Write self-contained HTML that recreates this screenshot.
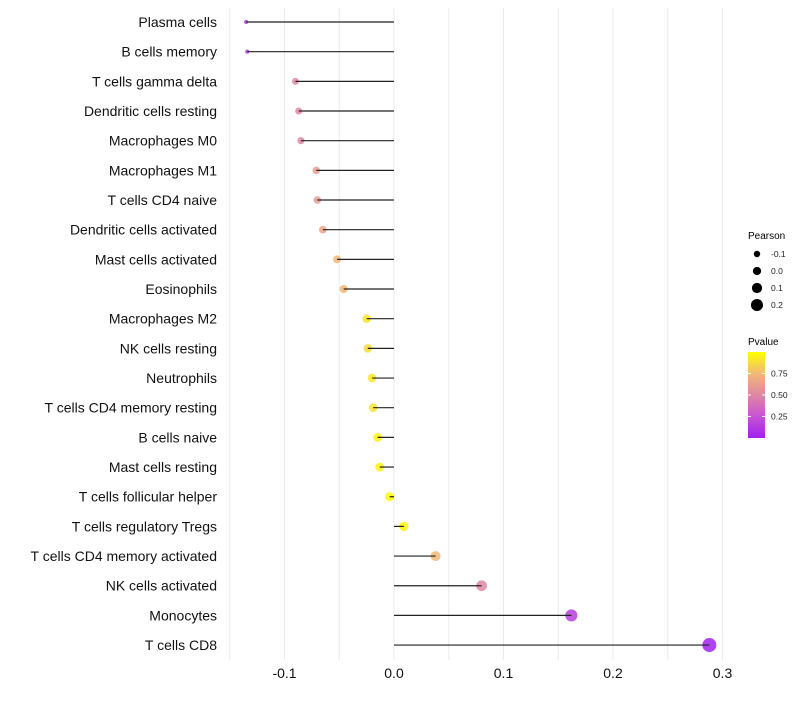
<!DOCTYPE html>
<html><head><meta charset="utf-8"><style>
body{margin:0;background:#fff;font-family:"Liberation Sans",sans-serif;}
</style></head><body>
<svg id="chart" width="800" height="700" xmlns="http://www.w3.org/2000/svg" font-family="Liberation Sans, sans-serif">
<defs>
<linearGradient id="pg" x1="0" y1="1" x2="0" y2="0">
<stop offset="0" stop-color="#a020f0"/><stop offset="0.25" stop-color="#c654d2"/><stop offset="0.5" stop-color="#df87a4"/><stop offset="0.75" stop-color="#f1b876"/><stop offset="1" stop-color="#ffff00"/>
</linearGradient>
</defs>
<g id="grid"></g><g id="dots"></g><g id="marks"></g><g id="labels"></g>
<g id="legend">
<text x="748" y="239" font-size="10">Pearson</text>
<text x="748" y="345" font-size="10">Pvalue</text>
<rect x="748" y="352" width="17" height="86" fill="url(#pg)"/>
</g>
</svg>
<script>
const cells=["Plasma cells","B cells memory","T cells gamma delta","Dendritic cells resting","Macrophages M0","Macrophages M1","T cells CD4 naive","Dendritic cells activated","Mast cells activated","Eosinophils","Macrophages M2","NK cells resting","Neutrophils","T cells CD4 memory resting","B cells naive","Mast cells resting","T cells follicular helper","T cells regulatory  Tregs ","T cells CD4 memory activated","NK cells activated","Monocytes","T cells CD8"];
const pearson=[-0.135,-0.134,-0.090,-0.087,-0.085,-0.071,-0.070,-0.065,-0.052,-0.046,-0.025,-0.024,-0.020,-0.019,-0.015,-0.013,-0.004,0.009,0.038,0.080,0.162,0.288];
const pvalue=[0.12,0.13,0.5,0.5,0.5,0.6,0.6,0.65,0.75,0.75,0.9,0.87,0.92,0.9,0.95,0.95,0.99,0.97,0.75,0.5,0.15,0.01];
const xTicks=[-0.1,0,0.1,0.2,0.3];
const xTickLabels=["-0.1","0.0","0.1","0.2","0.3"];
const sizeLegend=[-0.1,0,0.1,0.2];
const sizeLegendLabels=["-0.1","0.0","0.1","0.2"];
const pTicks=[0.25,0.5,0.75];
const pTickLabels=["0.25","0.50","0.75"];

const NS="http://www.w3.org/2000/svg";
const x=v=>394+v*1095;
const y=i=>22+i*29.67;
const r=v=>v<-0.09?2.1+(v+0.135)/0.045*1.4:Math.sqrt(21+98*v);
const stops=[[0,[160,32,240]],[0.25,[198,84,210]],[0.5,[223,135,164]],[0.75,[241,184,118]],[1,[255,255,0]]];
function col(p){for(let k=1;k<stops.length;k++){if(p<=stops[k][0]){const a=stops[k-1],b=stops[k],t=(p-a[0])/(b[0]-a[0]);const c=a[1].map((v,j)=>Math.round(v+(b[1][j]-v)*t));return`rgb(${c})`;}}return"rgb(255,255,0)";}
function mk(tag,at,parent){const e=document.createElementNS(NS,tag);for(const k in at)e.setAttribute(k,at[k]);document.getElementById(parent).appendChild(e);return e;}
for(let v=-0.15;v<=0.301;v+=0.05){const g=mk("line",{x1:x(v),x2:x(v),y1:8,y2:660,stroke:"#ebebeb","stroke-width":1},"grid");

}
xTicks.forEach((t,i)=>{const e=mk("text",{x:x(t),y:678,"font-size":14,"text-anchor":"middle",fill:"#111"},"labels");e.textContent=xTickLabels[i];

});
cells.forEach((c,i)=>{
const t=mk("text",{x:217,y:y(i)+5,"font-size":14,"text-anchor":"end",fill:"#111"},"labels");t.textContent=c;


const d=mk("circle",{cx:x(pearson[i]),cy:y(i),r:r(pearson[i]),fill:col(pvalue[i]),"fill-opacity":0.85},"dots");


const l=mk("line",{x1:x(0),x2:x(pearson[i]),y1:y(i),y2:y(i),stroke:"#222","stroke-width":1.2},"marks");


});
sizeLegend.forEach((v,i)=>{const yy=254+i*17;
const d=mk("circle",{cx:757,cy:yy,r:3.2+i*0.95,fill:"#000"},"legend");


const t=mk("text",{x:771,y:yy+3,"font-size":8.5,fill:"#222"},"legend");t.textContent=sizeLegendLabels[i];

});
pTicks.forEach((p,i)=>{const yy=438-p*86;
const l=mk("line",{x1:748,x2:751,y1:yy,y2:yy,stroke:"#fff"},"legend");


const l2=mk("line",{x1:762,x2:765,y1:yy,y2:yy,stroke:"#fff"},"legend");


const t=mk("text",{x:771,y:yy+3,"font-size":8.5,fill:"#222"},"legend");t.textContent=pTickLabels[i];

});
</script>
</body></html>
